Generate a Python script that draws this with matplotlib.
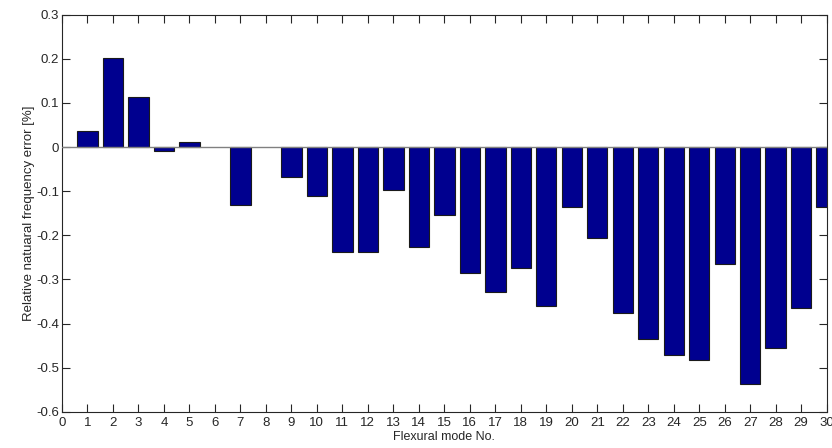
import matplotlib
matplotlib.use("Agg")
import matplotlib.pyplot as plt

plt.rcParams['font.family'] = ['Liberation Sans', 'DejaVu Sans']

modes = [1, 2, 3, 4, 5, 7, 9, 10, 11, 12, 13, 14, 15, 16, 17, 18, 19, 20,
         21, 22, 23, 24, 25, 26, 27, 28, 29, 30]
errors = [0.037, 0.203, 0.114, -0.009, 0.012, -0.132, -0.067, -0.111, -0.239,
          -0.239, -0.098, -0.226, -0.155, -0.286, -0.328, -0.275, -0.360,
          -0.136, -0.206, -0.376, -0.434, -0.471, -0.482, -0.265, -0.538,
          -0.455, -0.365, -0.136]
xticks = list(range(0, 31))
yticks = [-0.6, -0.5, -0.4, -0.3, -0.2, -0.1, 0, 0.1, 0.2, 0.3]
ytick_labels = ['-0.6', '-0.5', '-0.4', '-0.3', '-0.2', '-0.1', '0', '0.1', '0.2', '0.3']

fig = plt.figure(figsize=(8.32, 4.48), dpi=100)
ax = fig.add_axes([0.0745, 0.081, 0.9191, 0.886])

ax.bar(modes, errors, width=0.8, color='#00008F', edgecolor='#1a1a1a',
       linewidth=0.8, zorder=2)
ax.axhline(0, color='#808080', linewidth=1.0, zorder=3)

ax.set_xlim(0, 30)
ax.set_ylim(-0.6, 0.3)
ax.set_xticks(xticks)
ax.set_xticklabels([str(t) for t in xticks])
ax.set_yticks(yticks)
ax.set_yticklabels(ytick_labels)

ax.tick_params(axis='both', which='both', direction='in', length=5.8,
               width=0.8, top=True, right=True, labelsize=9.5, colors='#262626')
ax.tick_params(axis='x', pad=3.5)
ax.tick_params(axis='y', pad=2)
for s in ax.spines.values():
    s.set_color('#262626')
    s.set_linewidth(0.8)

ax.set_xlabel('Flexural mode No.', fontsize=9, color='#262626', labelpad=2)
ax.set_ylabel('Relative natuaral frequency error [%]', fontsize=9.5,
              color='#262626', labelpad=1)

fig.savefig('out.png', dpi=100, facecolor='white')
